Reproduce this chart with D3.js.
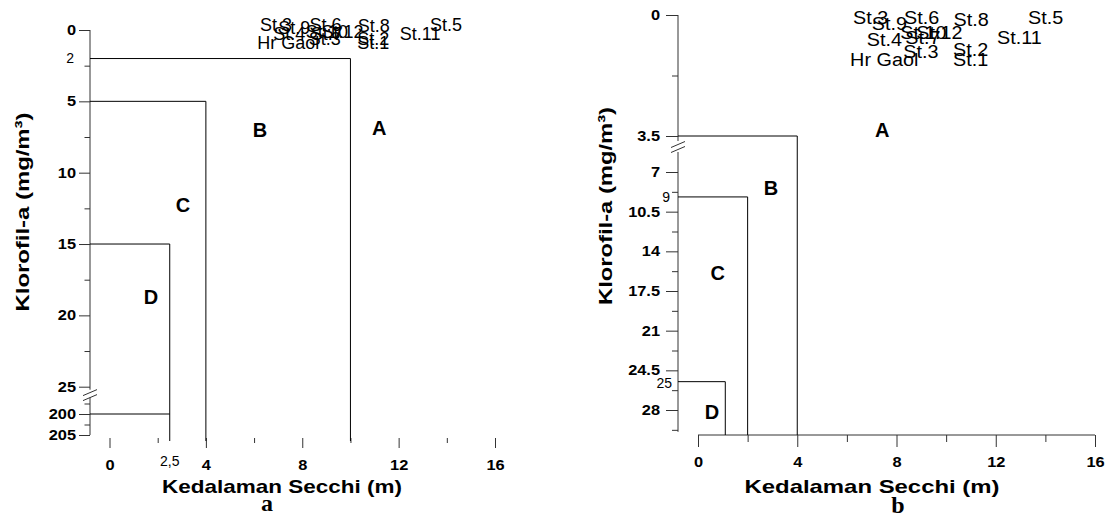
<!DOCTYPE html>
<html>
<head>
<meta charset="utf-8">
<script src="https://cdn.jsdelivr.net/npm/d3@7"></script>
<style>
  body { margin: 0; background: #fff; }
  text { font-family: "Liberation Sans", Arial, sans-serif; fill: #000; }
</style>
</head>
<body>
<svg id="chart" width="1108" height="518"></svg>
<script>
// station labels, position = (secchi depth m, klorofil-a mg/m3)
const stations = ["St.3", "St.6", "St.8", "St.5", "St.9", "St.10", "St.12", "St.7", "St.4", "St.11", "St.3", "St.2", "St.1", "Hr Gaol"];
const secchi   = [6.25, 8.3, 10.3, 13.3, 7.0, 8.15, 8.8, 8.35, 6.8, 12.05, 8.27, 10.28, 10.28, 6.13];
const chl      = [0.39, 0.39, 0.45, 0.39, 0.57, 0.83, 0.83, 0.97, 1.03, 0.97, 1.38, 1.32, 1.61, 1.61];

const zones = ["A", "B", "C", "D"];

// panel a: zone limits
const secchiLimA = [10, 4, 2.5];
const chlLimA = [2, 5, 15, 200];
// panel b: zone limits
const secchiLimB = [4, 2, 1.1];
const chlLimB = [3.5, 9.2, 25.5];

// tick labels
const xTicks = [0, 4, 8, 12, 16];
const xMinor = [2, 6, 10, 14];
const yTopA = [0, 5, 10, 15, 20, 25];
const yTopAMinor = [2.5, 7.5, 12.5, 17.5, 22.5];
const yBotA = [200, 205];
const yBotAMinor = [197.5, 202.5];
const yTopB = [0, 3.5];
const yTopBMinor = [1.75];
const yBotB = [7, 10.5, 14, 17.5, 21, 24.5, 28];
const yBotBMinor = [8.75, 12.25, 15.75, 19.25, 22.75, 26.25, 29.75];

const svg = d3.select("#chart");
const axisColor = "#333";
const fmt = d => String(d);

// stretch text horizontally (the original figure text is wider than Arial)
function stretch(sel, k) {
  sel.each(function () {
    const w = this.getComputedTextLength();
    d3.select(this).attr("textLength", w * k).attr("lengthAdjust", "spacingAndGlyphs");
  });
}

function yAxis(g, scale, major, minor, size, pad) {
  g.append("g").call(d3.axisLeft(scale).tickValues(major).tickSize(size).tickPadding(pad).tickFormat(fmt))
    .call(a => a.select(".domain").remove());
  g.append("g").call(d3.axisLeft(scale).tickValues(minor).tickSize(size / 2).tickFormat(""))
    .call(a => a.select(".domain").remove());
}

function styleAxes(g) {
  g.selectAll(".tick line").attr("stroke", axisColor);
  g.selectAll(".tick text").attr("font-size", 14).attr("font-weight", "bold")
    .attr("font-family", "Liberation Sans, Arial, sans-serif").attr("fill", "#000");
  stretch(g.selectAll(".tick text"), 1.17);
}

function breakMarks(g, x, y) {
  [-2.5, 2.5].forEach(o => {
    g.append("line").attr("x1", x - 7).attr("y1", y + o + 3)
      .attr("x2", x + 7).attr("y2", y + o - 3)
      .attr("stroke", axisColor);
  });
}

function stationLabels(g, x, y, k) {
  const t = g.selectAll(".st").data(stations).join("text")
    .attr("class", "st")
    .attr("x", (d, i) => x(secchi[i]))
    .attr("y", (d, i) => y(chl[i]) - 10.6)
    .attr("dy", "0.35em")
    .attr("font-size", 18)
    .text(d => d);
  stretch(t, k);
}

function zoneLabel(g, x, y, s, c, name) {
  g.append("text").attr("x", x(s)).attr("y", y(c)).attr("dy", "0.35em")
    .attr("text-anchor", "middle").attr("font-size", 20).attr("font-weight", "bold")
    .text(name);
}

function titles(g, cx, cy, yx, yy, ylen, xlen, letter, lx, ly) {
  g.append("text").attr("transform", `translate(${yx},${yy}) rotate(-90)`)
    .attr("text-anchor", "middle").attr("dy", "0.35em")
    .attr("font-size", 19).attr("font-weight", "bold")
    .attr("textLength", ylen).attr("lengthAdjust", "spacingAndGlyphs")
    .text("Klorofil-a (mg/m³)");
  g.append("text").attr("x", cx).attr("y", cy).attr("dy", "0.35em")
    .attr("text-anchor", "middle")
    .attr("font-size", 19).attr("font-weight", "bold")
    .attr("textLength", xlen).attr("lengthAdjust", "spacingAndGlyphs")
    .text("Kedalaman Secchi (m)");
  g.append("text").attr("x", lx).attr("y", ly).attr("dy", "0.35em")
    .attr("text-anchor", "middle")
    .style("font-family", "Liberation Serif, Times New Roman, serif")
    .attr("font-size", 24).attr("font-weight", "bold")
    .text(letter);
}

// ---------------- panel a ----------------
{
  const g = svg.append("g");
  const axX = 90;
  const x = d3.scaleLinear().domain([0, 16]).range([109.5, 495]);
  const yT = d3.scaleLinear().domain([0, 25]).range([30, 386.7]);
  const yB = d3.scaleLinear().domain([200, 205]).range([414, 435]);
  const baseY = 438;

  // y axis
  const ga = g.append("g").attr("transform", `translate(${axX},0)`);
  yAxis(ga, yT, yTopA, yTopAMinor, 11, 3);
  yAxis(ga, yB, yBotA, yBotAMinor, 11, 3);
  styleAxes(ga);
  ga.append("line").attr("y1", yT(0)).attr("y2", yT(25) + 3).attr("stroke", axisColor);
  ga.append("line").attr("y1", yB(197.5) - 6).attr("y2", yB(205)).attr("stroke", axisColor);
  breakMarks(g, axX, (yT(25) + yB(197.5)) / 2);

  // x axis (ticks only)
  const gx = g.append("g").attr("transform", `translate(0,${baseY})`);
  gx.append("g").call(d3.axisBottom(x).tickValues(xTicks).tickSize(10).tickPadding(12).tickFormat(fmt))
    .call(a => a.select(".domain").remove());
  gx.append("g").call(d3.axisBottom(x).tickValues(xMinor).tickSize(5).tickFormat(""))
    .call(a => a.select(".domain").remove());
  styleAxes(gx);

  // zone borders
  const bottom = baseY + 3;
  secchiLimA.forEach((s, i) => {
    g.append("path").attr("fill", "none").attr("stroke", "#000")
      .attr("d", `M${axX},${yT(chlLimA[i])}H${x(s)}V${bottom}`);
  });
  g.append("path").attr("fill", "none").attr("stroke", "#000")
    .attr("d", `M${axX},${yB(chlLimA[3])}H${x(secchiLimA[2])}`);

  // small annotations
  g.append("text").attr("x", axX - 16).attr("y", yT(chlLimA[0])).attr("dy", "0.35em")
    .attr("text-anchor", "end").attr("font-size", 14).text("2");
  g.append("text").attr("x", x(secchiLimA[2])).attr("y", 461).attr("dy", "0.35em")
    .attr("text-anchor", "middle").attr("font-size", 14).text("2,5");

  zoneLabel(g, x, yT, 11.2, 6.9, zones[0]);
  zoneLabel(g, x, yT, 6.25, 7.0, zones[1]);
  zoneLabel(g, x, yT, 3.05, 12.3, zones[2]);
  zoneLabel(g, x, yT, 1.72, 18.7, zones[3]);

  stationLabels(g, x, yT, 1.0);
  titles(g, 282, 486, 22, 212, 199, 240, "a", 267, 503);
}

// ---------------- panel b ----------------
{
  const g = svg.append("g");
  const axX = 678;
  const x = d3.scaleLinear().domain([0, 16]).range([698, 1095]);
  const yT = d3.scaleLinear().domain([0, 3.5]).range([15, 136]);
  const yB = d3.scaleLinear().domain([7, 28]).range([172, 410]);
  const baseY = 435;

  const ga = g.append("g").attr("transform", `translate(${axX},0)`);
  yAxis(ga, yT, yTopB, yTopBMinor, 12, 6);
  yAxis(ga, yB, yBotB, yBotBMinor, 12, 6);
  styleAxes(ga);
  ga.append("line").attr("y1", yT(0)).attr("y2", yT(3.5) + 5).attr("stroke", axisColor);
  ga.append("line").attr("y1", yB(7) - 20).attr("y2", yB(29.75) + 2).attr("stroke", axisColor);
  breakMarks(g, axX, yT(3.5) + 11);

  const gx = g.append("g").attr("transform", `translate(0,${baseY})`);
  gx.append("g").call(d3.axisBottom(x).tickValues(xTicks).tickSize(12).tickPadding(10).tickFormat(fmt))
    .call(a => a.select(".domain").attr("stroke", axisColor).attr("d", `M${x(0)},0H${x(16)}`));
  gx.append("g").call(d3.axisBottom(x).tickValues(xMinor).tickSize(7).tickFormat(""))
    .call(a => a.select(".domain").remove());
  styleAxes(gx);

  secchiLimB.forEach((s, i) => {
    const y = i === 0 ? yT(chlLimB[i]) : yB(chlLimB[i]);
    g.append("path").attr("fill", "none").attr("stroke", "#000")
      .attr("d", `M${axX},${y}H${x(s)}V${baseY}`);
  });

  g.append("text").attr("x", axX - 8).attr("y", yB(chlLimB[1])).attr("dy", "0.35em")
    .attr("text-anchor", "end").attr("font-size", 14).text("9");
  g.append("text").attr("x", axX - 6).attr("y", yB(chlLimB[2])).attr("dy", "0.45em")
    .attr("text-anchor", "end").attr("font-size", 14).text("25");

  zoneLabel(g, x, yT, 7.42, 3.33, zones[0]);
  zoneLabel(g, x, yB, 2.94, 8.4, zones[1]);
  zoneLabel(g, x, yB, 0.8, 15.9, zones[2]);
  zoneLabel(g, x, yB, 0.56, 28.2, zones[3]);

  stationLabels(g, x, yT, 1.1);
  titles(g, 872, 486, 605, 206, 198, 255, "b", 898, 505);
}
</script>
</body>
</html>
